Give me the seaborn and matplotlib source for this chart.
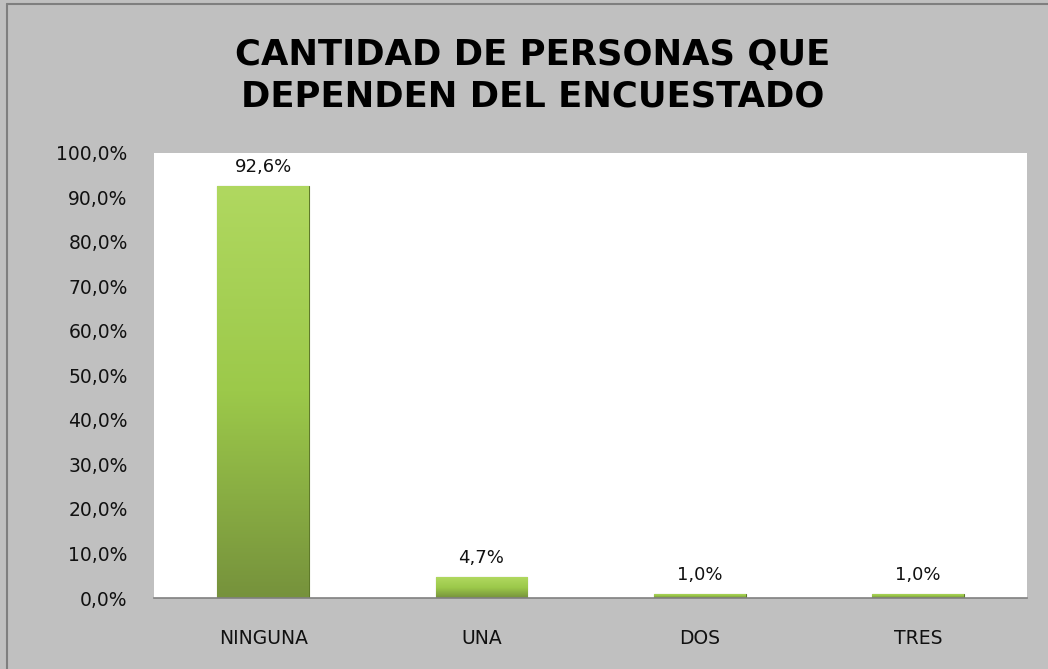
import numpy as np
import pandas as pd
import seaborn as sns
import matplotlib.pyplot as plt
from matplotlib.colors import LinearSegmentedColormap
from matplotlib.ticker import FuncFormatter

# datos del grafico
categorias = ["NINGUNA", "UNA", "DOS", "TRES"]
porcentajes = [92.6, 4.7, 1.0, 1.0]
etiquetas = ["92,6%", "4,7%", "1,0%", "1,0%"]

df = pd.DataFrame({"cat": categorias, "pct": porcentajes})

sns.set_theme(style="white")
plt.rcParams['font.family'] = ['DejaVu Sans']

fig = plt.figure(figsize=(10.48, 6.69), dpi=100)
fig.patch.set_facecolor("#c0c0c0")
ax = fig.add_axes([0.147, 0.106, 0.833, 0.666])
ax.set_facecolor("white")

sns.barplot(data=df, x="cat", y="pct", color="#8db43f", width=0.42, ax=ax,
            edgecolor="#5f7a2a", linewidth=0.8)

ax.set_ylim(0, 100)
ax.set_yticks(np.arange(0, 101, 10))
ax.yaxis.set_major_formatter(FuncFormatter(lambda v, p: f"{v:.1f}%".replace(".", ",")))
ax.tick_params(axis="y", labelsize=13.5, colors="#111111", pad=19, length=0)
ax.tick_params(axis="x", labelsize=13.5, colors="#111111", pad=22, length=0)
ax.set_xlabel("")
ax.set_ylabel("")
for s in ["top", "right", "left"]:
    ax.spines[s].set_visible(False)
ax.spines["bottom"].set_color("#808080")
ax.spines["bottom"].set_linewidth(1.2)

# degradado en las barras
cmap = LinearSegmentedColormap.from_list("verde", ["#76923c", "#9cc94a", "#b0d860"])
grad = np.linspace(0, 1, 256).reshape(-1, 1)
for bar, lab in zip(ax.patches, etiquetas):
    x0, y0 = bar.get_x(), bar.get_y()
    w, h = bar.get_width(), bar.get_height()
    im = ax.imshow(grad, extent=[x0, x0 + w, y0, y0 + h], origin="lower",
                   cmap=cmap, aspect="auto", zorder=bar.get_zorder() + 0.1)
    im.set_clip_path(bar)
    ax.text(x0 + w / 2, h + 2.2, lab, ha="center", va="bottom",
            fontsize=13, color="#111111")
ax.set_xlim(-0.5, len(categorias) - 0.5)
ax.set_ylim(0, 100)

fig.text(0.508, 0.887, "CANTIDAD DE PERSONAS QUE\nDEPENDEN DEL ENCUESTADO",
         ha="center", va="center", fontsize=25.5, fontweight="bold",
         color="black", linespacing=1.3)

# borde de la figura
fig.add_artist(plt.Line2D([0.007, 0.007], [0.0, 0.994], color="#7f7f7f", lw=1.5))
fig.add_artist(plt.Line2D([0.007, 1.0], [0.994, 0.994], color="#7f7f7f", lw=1.5))

fig.savefig("out.png", dpi=100, facecolor=fig.get_facecolor())
